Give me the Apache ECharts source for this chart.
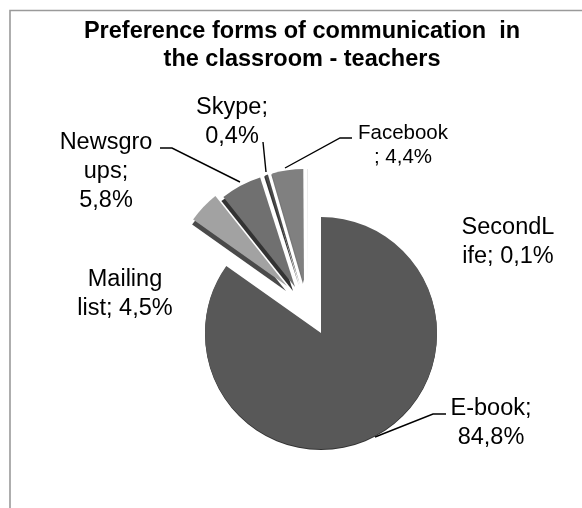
<!DOCTYPE html>
<html><head><meta charset="utf-8">
<style>html,body{margin:0;padding:0;background:#fff}#c{width:582px;height:508px}</style>
<script src="https://cdn.jsdelivr.net/npm/echarts@6/dist/echarts.min.js"></script>
</head><body><div id="c"></div>
<script>
const titleText = 'Preference forms of communication  in\nthe classroom - teachers';
const categories = ['E-book','Mailing list','Newsgroups','Skype','Facebook','SecondLife'];
const values = [84.8,4.5,5.8,0.4,4.4,0.1];
const labelTexts = ['E-book;\n84,8%','Mailing\nlist; 4,5%','Newsgro\nups;\n5,8%','Skype;\n0,4%','Facebook\n; 4,4%','SecondL\nife; 0,1%'];

const colors = ['#585858','#a2a2a2','#707070','#4a4a4a','#808080','#dedede'];
const shadowColors = ['#333','#4a4a4a','#333','#333','#777','#ddd'];
const shadowOffsets = [[0,1],[-1,5],[-2,4],[-1,1],[-1,1],[0,0]];
const centers = [[321,333],[287,286],[295,287],[300,285],[304,283],[308,283]];
const radii = [116,115,115,115,114,114];
const labelPos = [[491,423],[125,294],[106,172],[232,122],[403,145],[508,242]];
const labelSize = [23.5,23.5,23.5,23.5,20.5,23.5];
const leaders = [
  [[375,437],[433,414],[446,414]],
  null,
  [[240,182],[172,148],[160,148]],
  [[266,172],[263,142]],
  [[285,168],[340,138],[352,138]],
  null
];

const series = categories.map((name,i)=>({
  type:'pie', center:centers[i], radius:[0,radii[i]], startAngle:90, clockwise:true, silent:true,
  animation:false, avoidLabelOverlap:false, z:2+i,
  data: categories.map((n,j)=>({
    name:n, value:values[j],
    itemStyle: j===i ? {color:colors[i], borderWidth:0, shadowColor:shadowColors[i], shadowBlur:0,
        shadowOffsetX:shadowOffsets[i][0], shadowOffsetY:shadowOffsets[i][1]} : {color:'rgba(0,0,0,0)'},
    label: j===i ? {show:true, formatter:labelTexts[i], color:'#000', fontSize:labelSize[i],
        fontFamily:'Liberation Sans', lineHeight:i===4?24:29, align:'center', position:'outside'} : {show:false},
    labelLine: {show: j===i && !!leaders[i], lineStyle:{color:'#000',width:1.4}, smooth:false}
  })),
  labelLayout: p => p.dataIndex===i ? {
      x:labelPos[i][0], y:labelPos[i][1], align:'center', verticalAlign:'middle',
      labelLinePoints: leaders[i] || undefined } : {}
}));

const chart = echarts.init(document.getElementById('c'));
chart.setOption({
  backgroundColor:'#fff', animation:false,
  title:{text:titleText,left:297,top:13,textAlign:'center',
    textStyle:{fontFamily:'Liberation Sans',fontSize:23.5,fontWeight:'bold',color:'#000',lineHeight:28}},
  graphic:[{type:'polyline',silent:true,z:0,shape:{points:[[10,508],[10,10.5],[582,10.5]]},
    style:{stroke:'#9a9a9a',lineWidth:1.6,fill:null}}],
  series
});
</script></body></html>
